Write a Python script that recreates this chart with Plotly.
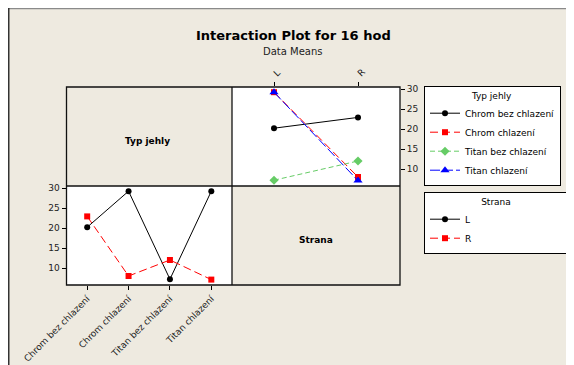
import plotly.graph_objects as go

W, H = 574, 365

# ---- data ----
types = ["Chrom bez chlazení", "Chrom chlazení", "Titan bez chlazení", "Titan chlazení"]
sides = ["L", "R"]
mean_L = [20.2, 29.2, 7.2, 29.2]   # Strana L, per Typ jehly
mean_R = [22.9, 8.0, 12.0, 7.1]    # Strana R, per Typ jehly
y_ticks = [10, 15, 20, 25, 30]

FONT = "DejaVu Sans"
BEIGE = "#EEEAE0"
OFF = 8  # page margin offset
PAD = "\u00a0" * 32  # widens the second legend box to match the first


def px(x):
    return (x - OFF) / W


def py(y):
    return 1 - (y - OFF) / H


type_styles = [
    dict(color="black", dash="solid", symbol="circle", size=6),
    dict(color="#FF0000", dash="8px,4px", symbol="square", size=6),
    dict(color="#66CC66", dash="5px,3px", symbol="diamond", size=7),
    dict(color="#0000FF", dash="10px,3px", symbol="triangle-up", size=8),
]
side_styles = [
    dict(color="black", dash="solid", symbol="circle", size=6),
    dict(color="#FF0000", dash="8px,4px", symbol="square", size=6),
]

fig = go.Figure()

# top-right panel: x = Strana, one line per Typ jehly
for i, t in enumerate(types):
    s = type_styles[i]
    fig.add_trace(go.Scatter(
        x=sides, y=[mean_L[i], mean_R[i]], name=t, mode="lines+markers",
        line=dict(color=s["color"], dash=s["dash"], width=1),
        marker=dict(color=s["color"], symbol=s["symbol"], size=s["size"]),
        xaxis="x", yaxis="y", legend="legend", cliponaxis=False,
    ))

# bottom-left panel: x = Typ jehly, one line per Strana
for j, (sd, vals) in enumerate(zip(sides, [mean_L, mean_R])):
    s = side_styles[j]
    fig.add_trace(go.Scatter(
        x=types, y=vals, name=sd + (PAD if j == 0 else ""), mode="lines+markers",
        line=dict(color=s["color"], dash=s["dash"], width=1),
        marker=dict(color=s["color"], symbol=s["symbol"], size=s["size"]),
        xaxis="x2", yaxis="y2", legend="legend2", cliponaxis=False,
    ))

axis_common = dict(showgrid=False, zeroline=False, showline=False, ticks="outside",
                   ticklen=4, tickcolor="black", tickwidth=1,
                   tickfont=dict(family=FONT, size=9, color="#222"), automargin=False)

Y_RANGE = [5.75, 30.5]

legend_common = dict(xanchor="left", yanchor="top",
                     bgcolor="white", bordercolor="black", borderwidth=1,
                     font=dict(family=FONT, size=9, color="black"),
                     tracegroupgap=0)

fig.update_layout(
    width=W, height=H, autosize=False,
    margin=dict(l=0, r=0, t=0, b=0),
    paper_bgcolor=BEIGE, plot_bgcolor="rgba(0,0,0,0)",
    font=dict(family=FONT, size=9, color="black"),
    xaxis=dict(domain=[px(232), px(400)], anchor="y", side="top", type="category",
               categoryorder="array", categoryarray=sides, range=[-0.5, 1.5],
               tickangle=-45, **axis_common),
    yaxis=dict(domain=[py(186), py(87)], anchor="x", side="right", range=Y_RANGE,
               tickvals=y_ticks, **axis_common),
    xaxis2=dict(domain=[px(66.5), px(232)], anchor="y2", type="category",
                categoryorder="array", categoryarray=types, range=[-0.5, 3.5],
                tickangle=-45, **axis_common),
    yaxis2=dict(domain=[py(285), py(186)], anchor="x2", side="left", range=Y_RANGE,
                tickvals=y_ticks, **axis_common),
    legend=dict(x=px(424), y=py(86),
                title=dict(text="Typ jehly", side="top center",
                           font=dict(family=FONT, size=9)),
                **legend_common),
    legend2=dict(x=px(424), y=py(192),
                 title=dict(text="Strana", side="top center",
                            font=dict(family=FONT, size=9)),
                 **legend_common),
    showlegend=True,
)

shapes = [
    # outer frame (paper border)
    dict(type="line", xref="paper", yref="paper", x0=0, y0=1, x1=1, y1=1,
         line=dict(color="#8A8A8A", width=2.5), layer="below"),
    dict(type="line", xref="paper", yref="paper", x0=0, y0=1, x1=0, y1=0,
         line=dict(color="#333333", width=3), layer="below"),
    # white plot panels
    dict(type="rect", xref="paper", yref="paper", x0=px(232), y0=py(186), x1=px(400), y1=py(87),
         line=dict(width=0), fillcolor="white", layer="below"),
    dict(type="rect", xref="paper", yref="paper", x0=px(66.5), y0=py(285), x1=px(232), y1=py(186),
         line=dict(width=0), fillcolor="white", layer="below"),
    # matrix border
    dict(type="rect", xref="paper", yref="paper", x0=px(66.5), y0=py(285), x1=px(400), y1=py(87),
         line=dict(color="#111", width=1.3), fillcolor="rgba(0,0,0,0)", layer="above"),
    dict(type="line", xref="paper", yref="paper", x0=px(232), y0=py(285), x1=px(232), y1=py(87),
         line=dict(color="#111", width=1.3), layer="above"),
    dict(type="line", xref="paper", yref="paper", x0=px(66.5), y0=py(186), x1=px(400), y1=py(186),
         line=dict(color="#111", width=1.3), layer="above"),
]
fig.update_layout(shapes=shapes)

annotations = [
    dict(text="<b>Interaction Plot for 16 hod</b>", x=px(293), y=py(35), xref="paper", yref="paper",
         xanchor="center", yanchor="middle",
         showarrow=False, font=dict(family=FONT, size=13, color="black")),
    dict(text="Data Means", x=px(293), y=py(52), xref="paper", yref="paper",
         xanchor="center", yanchor="middle",
         showarrow=False, font=dict(family=FONT, size=10, color="#222")),
    dict(text="<b>Typ jehly</b>", x=px(147), y=py(141), xref="paper", yref="paper",
         xanchor="center", yanchor="middle",
         showarrow=False, font=dict(family=FONT, size=9, color="black")),
    dict(text="<b>Strana</b>", x=px(316), y=py(240), xref="paper", yref="paper",
         xanchor="center", yanchor="middle",
         showarrow=False, font=dict(family=FONT, size=9, color="black")),
]
fig.update_layout(annotations=annotations)

fig.write_html("out.html")
